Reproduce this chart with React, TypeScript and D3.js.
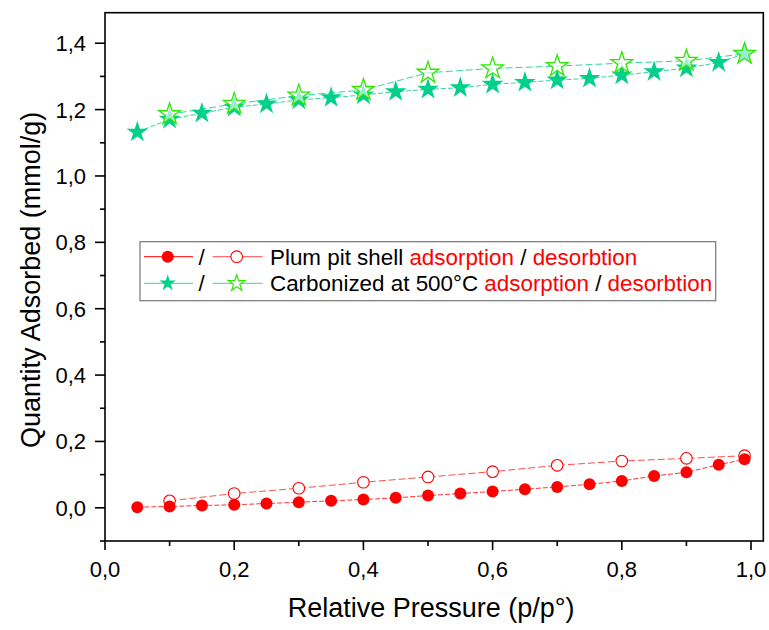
import React from "react";
import * as d3 from "d3";

const adsX = [0.05, 0.1, 0.15, 0.2, 0.25, 0.3, 0.35, 0.4, 0.45, 0.5, 0.55, 0.6, 0.65, 0.7, 0.75, 0.8, 0.85, 0.9, 0.95, 0.99];
const desX = [0.1, 0.2, 0.3, 0.4, 0.5, 0.6, 0.7, 0.8, 0.9, 0.99];

const plumAds = [0.002, 0.004, 0.007, 0.009, 0.013, 0.017, 0.021, 0.025, 0.03, 0.037, 0.043, 0.049, 0.056, 0.063, 0.071, 0.081, 0.096, 0.107, 0.13, 0.146];
const plumDes = [0.021, 0.043, 0.059, 0.077, 0.093, 0.109, 0.128, 0.141, 0.149, 0.157];

const carbAds = [1.132, 1.171, 1.189, 1.207, 1.217, 1.229, 1.236, 1.244, 1.254, 1.261, 1.266, 1.276, 1.282, 1.289, 1.294, 1.304, 1.314, 1.325, 1.342, 1.368];
const carbDes = [1.186, 1.217, 1.242, 1.259, 1.311, 1.324, 1.331, 1.34, 1.347, 1.368];

const xMajor = [0, 0.2, 0.4, 0.6, 0.8, 1.0];
const xMinor = [0.1, 0.3, 0.5, 0.7, 0.9];
const yMajor = [0, 0.2, 0.4, 0.6, 0.8, 1.0, 1.2, 1.4];
const yMinor = [-0.1, 0.1, 0.3, 0.5, 0.7, 0.9, 1.1, 1.3];

const xTitle = "Relative Pressure (p/p°)";
const yTitle = "Quantity Adsorbed (mmol/g)";

const FONT = "Arial, 'Liberation Sans', sans-serif";
const RED = "#ff0000";
const TEAL = "#00d08a";
const LIME = "#2ee600";
const TEAL_LINE = "#33d6a0";

const fmt = (v: number) => v.toFixed(1).replace(".", ",");

export default function App() {
  const W = 769, H = 630;
  const L = 105, R = 763.3, T = 12.7, B = 541;
  const x = d3.scaleLinear().domain([0, 1.019]).range([L, R]);
  const y = d3.scaleLinear().domain([-0.1, 1.492]).range([B, T]);

  const line = d3.line<[number, number]>().x(d => x(d[0])).y(d => y(d[1]));
  const pts = (xs: number[], ys: number[]) => xs.map((v, i) => [v, ys[i]] as [number, number]);

  const star = d3.symbol().type(d3.symbolStar);
  const starBig = star.size(145)() as string;
  const starSmall = star.size(85)() as string;

  const pa = pts(adsX, plumAds), pd = pts(desX, plumDes);
  const ca = pts(adsX, carbAds), cd = pts(desX, carbDes);

  return (
    <svg width={W} height={H} style={{ position: "absolute", left: 0, top: 0, background: "#fff" }} fontFamily={FONT}>
      {/* lines */}
      <path d={line(pa) || ""} fill="none" stroke={RED} strokeOpacity={0.8} strokeWidth={1} strokeDasharray="5,2" />
      <path d={line(pd) || ""} fill="none" stroke={RED} strokeOpacity={0.7} strokeWidth={1} strokeDasharray="7,3" />
      <path d={line(ca) || ""} fill="none" stroke={TEAL_LINE} strokeWidth={1} strokeDasharray="5,2" />
      <path d={line(cd) || ""} fill="none" stroke={TEAL_LINE} strokeWidth={1} strokeDasharray="7,3" />

      {/* markers */}
      {pd.map((p, i) => (
        <circle key={"pd" + i} cx={x(p[0])} cy={y(p[1])} r={5.8} fill="#fff" stroke={RED} strokeWidth={1.1} />
      ))}
      {pa.map((p, i) => (
        <circle key={"pa" + i} cx={x(p[0])} cy={y(p[1])} r={6} fill={RED} />
      ))}
      {ca.map((p, i) => (
        <path key={"ca" + i} d={starBig} transform={`translate(${x(p[0])},${y(p[1])})`} fill={TEAL} />
      ))}
      {cd.map((p, i) => (
        <path key={"cd" + i} d={starBig} transform={`translate(${x(p[0])},${y(p[1])})`} fill="#fff" fillOpacity={0.6} stroke={LIME} strokeWidth={1.3} />
      ))}

      {/* frame */}
      <rect x={L} y={T} width={R - L} height={B - T} fill="none" stroke="#000" strokeWidth={1.6} />

      {/* x ticks */}
      {xMajor.map(v => (
        <g key={"xM" + v}>
          <line x1={x(v)} x2={x(v)} y1={B} y2={B + 9} stroke="#000" strokeWidth={1.6} />
          <text x={x(v)} y={B + 36} textAnchor="middle" fontSize={22} fill="#000">{fmt(v)}</text>
        </g>
      ))}
      {xMinor.map(v => (
        <line key={"xm" + v} x1={x(v)} x2={x(v)} y1={B} y2={B + 5} stroke="#000" strokeWidth={1.6} />
      ))}
      {/* y ticks */}
      {yMajor.map(v => (
        <g key={"yM" + v}>
          <line x1={L - 10} x2={L} y1={y(v)} y2={y(v)} stroke="#000" strokeWidth={1.6} />
          <text x={L - 19} y={y(v)} dy="0.36em" textAnchor="end" fontSize={22} fill="#000">{fmt(v)}</text>
        </g>
      ))}
      {yMinor.map(v => (
        <line key={"ym" + v} x1={L - 5} x2={L} y1={y(v)} y2={y(v)} stroke="#000" strokeWidth={1.6} />
      ))}

      {/* titles */}
      <text x={(L + R) / 2 - 3} y={617} textAnchor="middle" fontSize={27} fill="#000">{xTitle}</text>
      <text transform={`translate(40,${(T + B) / 2 + 3}) rotate(-90)`} textAnchor="middle" fontSize={27} fill="#000">{yTitle}</text>

      {/* legend */}
      <rect x={140} y={241.7} width={575.7} height={59} fill="#fff" stroke="#777" strokeWidth={1.2} />
      <g>
        <line x1={144} x2={193} y1={256.7} y2={256.7} stroke={RED} strokeWidth={1} />
        <circle cx={167.7} cy={256.7} r={6} fill={RED} />
        <text x={201.7} y={256.7} dy="0.36em" textAnchor="middle" fontSize={22.4}>/</text>
        <line x1={212.7} x2={262.7} y1={256.7} y2={256.7} stroke={RED} strokeOpacity={0.7} strokeWidth={1} />
        <circle cx={236.7} cy={256.7} r={5.8} fill="#fff" stroke={RED} strokeWidth={1.1} />
        <text x={270} y={256.7} dy="0.36em" fontSize={22.4} fill="#000">
          Plum pit shell <tspan fill={RED}>adsorption</tspan> / <tspan fill={RED}>desorbtion</tspan>
        </text>
      </g>
      <g>
        <line x1={144} x2={193} y1={283.3} y2={283.3} stroke={TEAL_LINE} strokeWidth={1} />
        <path d={starSmall} transform="translate(167.7,283.3)" fill={TEAL} />
        <text x={201.7} y={283.3} dy="0.36em" textAnchor="middle" fontSize={22.4}>/</text>
        <line x1={212.7} x2={262.7} y1={283.3} y2={283.3} stroke={TEAL_LINE} strokeWidth={1} />
        <path d={starSmall} transform="translate(236.7,283.3)" fill="#fff" stroke={LIME} strokeWidth={1.2} />
        <text x={270} y={283.3} dy="0.36em" fontSize={22.4} fill="#000">
          Carbonized at 500°C <tspan fill={RED}>adsorption</tspan> / <tspan fill={RED}>desorbtion</tspan>
        </text>
      </g>
    </svg>
  );
}
